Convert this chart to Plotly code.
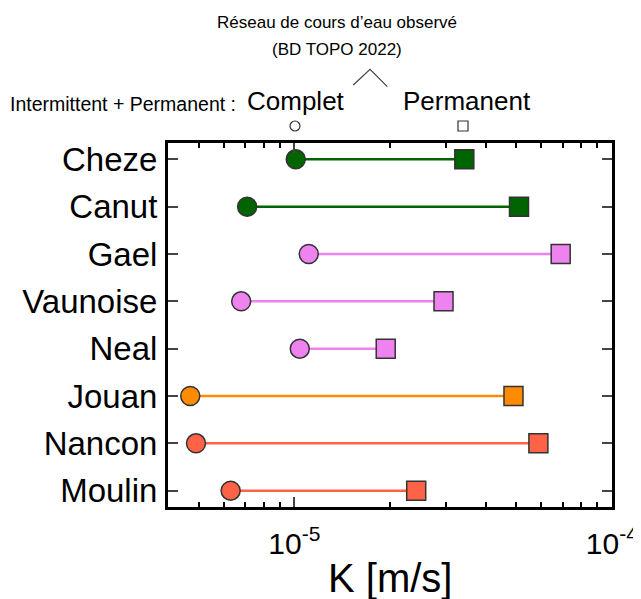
import plotly.graph_objects as go

# données
rivers = ['Cheze', 'Canut', 'Gael', 'Vaunoise', 'Neal', 'Jouan', 'Nancon', 'Moulin']
k_complet = [1.01e-5, 7.1e-6, 1.11e-5, 6.8e-6, 1.04e-5, 4.7e-6, 4.9e-6, 6.3e-6]
k_permanent = [3.43e-5, 5.1e-5, 6.9e-5, 2.95e-5, 1.94e-5, 4.9e-5, 5.87e-5, 2.42e-5]
river_colors = ['darkgreen', 'darkgreen', 'violet', 'violet', 'violet',
                'darkorange', 'tomato', 'tomato']

major_ticks = [1e-5, 1e-4]
major_labels = ['10<sup>-5</sup>', '10<sup>-4</sup>']
minor_ticks = [m * 10 ** e for e in (-6, -5) for m in range(2, 10)]

FONT = 'Liberation Sans, Arial, sans-serif'
EDGE = '#333333'

fig = go.Figure()

# segments
for river, k1, k2, col in zip(rivers, k_complet, k_permanent, river_colors):
    fig.add_trace(go.Scatter(
        x=[k1, k2], y=[river, river], mode='lines',
        line=dict(color=col, width=2.5), showlegend=False, hoverinfo='skip'
    ))

# réseau complet (cercles)
fig.add_trace(go.Scatter(
    x=k_complet, y=rivers, mode='markers', name='Complet',
    marker=dict(symbol='circle', size=19, color=river_colors,
                line=dict(color=EDGE, width=1.5)),
    showlegend=False
))

# réseau permanent (carrés)
fig.add_trace(go.Scatter(
    x=k_permanent, y=rivers, mode='markers', name='Permanent',
    marker=dict(symbol='square', size=19, color=river_colors,
                line=dict(color=EDGE, width=1.5)),
    showlegend=False
))

# la page ajoute 8 px de marge autour du graphique
fig.update_layout(
    width=633, height=591,
    margin=dict(l=160, r=29, t=135, b=92, autoexpand=False),
    paper_bgcolor='white', plot_bgcolor='white',
    font=dict(family=FONT, color='black'),
)

fig.update_xaxes(
    type='log', range=[-5.398, -3.9995], automargin=False,
    tickmode='array', tickvals=major_ticks, ticktext=major_labels,
    tickfont=dict(size=30), ticks='inside', ticklen=10, tickwidth=2,
    ticklabelstandoff=8,
    minor=dict(tickmode='array', tickvals=minor_ticks, ticks='inside',
               ticklen=5, tickwidth=1.5, tickcolor='black', showgrid=False),
    showline=True, linewidth=3, linecolor='black', mirror='ticks',
    showgrid=False, zeroline=False,
)

fig.update_yaxes(
    type='category', categoryorder='array', categoryarray=rivers,
    range=[7.345, -0.345], automargin=False,
    tickfont=dict(size=33), ticks='inside', ticklen=10, tickwidth=2,
    showline=True, linewidth=3, linecolor='black', mirror='ticks',
    showgrid=False, zeroline=False, ticklabelstandoff=1,
)

# titre de l'axe x
fig.add_annotation(x=0.5, y=-0.129, xref='paper', yref='paper',
                   text='K [m/s]', showarrow=False,
                   font=dict(size=40), xanchor='center', yanchor='top')

# en-tête
fig.add_annotation(x=0.3806, y=1.3324, xref='paper', yref='paper',
                   text='Réseau de cours d’eau observé', showarrow=False,
                   font=dict(size=17), xanchor='center', yanchor='middle')
fig.add_annotation(x=0.3806, y=1.2555, xref='paper', yref='paper',
                   text='(BD TOPO 2022)', showarrow=False,
                   font=dict(size=17), xanchor='center', yanchor='middle')
fig.add_annotation(x=0.1577, y=1.108, xref='paper', yref='paper',
                   text='Intermittent + Permanent :', showarrow=False,
                   font=dict(size=19.5), xanchor='right', yanchor='middle')
fig.add_annotation(x=0.1734, y=1.116, xref='paper', yref='paper',
                   text='Complet', showarrow=False,
                   font=dict(size=26), xanchor='left', yanchor='middle')
fig.add_annotation(x=0.5248, y=1.116, xref='paper', yref='paper',
                   text='Permanent', showarrow=False,
                   font=dict(size=26), xanchor='left', yanchor='middle')

# chevron
fig.add_shape(type='path', xref='paper', yref='paper',
              path='M 0.4173 1.1593 L 0.455 1.2025 L 0.4939 1.1547',
              line=dict(color='#444444', width=1.2))

# symboles de légende
fig.add_shape(type='circle', xref='paper', yref='paper',
              xsizemode='pixel', ysizemode='pixel',
              xanchor=0.286, yanchor=1.0467, x0=-5, x1=5, y0=-5, y1=5,
              line=dict(color='#333333', width=1.2))
fig.add_shape(type='rect', xref='paper', yref='paper',
              xsizemode='pixel', ysizemode='pixel',
              xanchor=0.6644, yanchor=1.0467, x0=-5, x1=5, y0=-5, y1=5,
              line=dict(color='#333333', width=1.2))

fig.write_html('out.html')
